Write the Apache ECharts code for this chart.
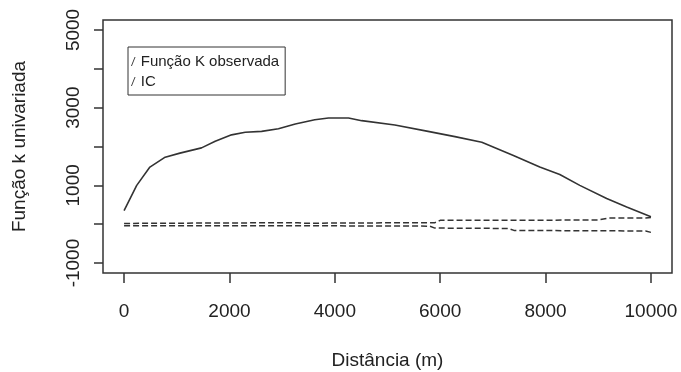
<!DOCTYPE html>
<html>
<head>
<meta charset="utf-8">
<script src="https://cdn.jsdelivr.net/npm/echarts@6/dist/echarts.min.js"></script>
<style>
  html, body { margin: 0; padding: 0; background: #fff; }
  #main { width: 681px; height: 372px; }
</style>
</head>
<body>
<div id="main"></div>
<script>
// função K observada
var dist = [0, 240, 490, 780, 1060, 1470, 1730, 2040, 2300, 2610, 2930, 3250, 3620, 3880, 4260, 4510, 5140, 5770, 6280, 6790, 7390, 7890, 8270, 8650, 9160, 9540, 10000];
var kObs = [350, 1000, 1470, 1725, 1830, 1965, 2135, 2300, 2365, 2390, 2455, 2580, 2690, 2735, 2735, 2665, 2555, 2390, 2255, 2110, 1770, 1470, 1280, 1000, 660, 445, 190];

// intervalo de confiança
var icDist = [0, 3300, 3400, 5800, 5900, 6000, 7300, 7400, 9000, 9200, 9900, 10000];
var icUpper = [20, 40, 25, 40, 40, 100, 100, 100, 110, 160, 160, 170];
var icLower = [-40, -40, -40, -50, -100, -100, -110, -160, -170, -170, -175, -210];

var xTicks = [0, 2000, 4000, 6000, 8000, 10000];
var yTicks = [-1000, 0, 1000, 2000, 3000, 4000, 5000];
var yLabels = [-1000, 1000, 3000, 5000];

function pairs(xs, ys) {
  return xs.map(function (x, i) { return [x, ys[i]]; });
}

var fontFam = 'Liberation Sans, Arial, sans-serif';
var ink = '#333';

var option = {
  backgroundColor: '#fff',
  animation: false,
  grid: {
    left: 103, right: 9, top: 20, bottom: 99,
    outerBoundsMode: 'none',
    show: true, borderColor: ink, borderWidth: 1.5
  },
  legend: {
    orient: 'vertical',
    left: 128, top: 47,
    padding: [7, 6, 6, 3],
    itemGap: 5,
    itemWidth: 5, itemHeight: 9,
    borderColor: ink, borderWidth: 1,
    backgroundColor: '#fff',
    textStyle: { fontFamily: fontFam, fontSize: 15, color: '#222' },
    data: [
      { name: 'Função K observada', icon: 'path://M0,10 L1,10 L5,0 L4,0 Z' },
      { name: 'IC', icon: 'path://M0,10 L1,10 L5,0 L4,0 Z' }
    ]
  },
  xAxis: {
    type: 'value',
    min: -400, max: 10400,
    name: 'Distância (m)',
    nameLocation: 'middle',
    nameGap: 78,
    nameTextStyle: { fontFamily: fontFam, fontSize: 19, color: '#222' },
    axisLine: { show: false, onZero: false },
    splitLine: { show: false },
    axisTick: { show: true, customValues: xTicks, length: 10, lineStyle: { color: ink, width: 1.5 } },
    axisLabel: { customValues: xTicks, margin: 29, fontFamily: fontFam, fontSize: 19, color: '#222',
      formatter: function (v) { return String(v); } }
  },
  yAxis: {
    type: 'value',
    min: -1256, max: 5256,
    name: 'Função k univariada',
    nameLocation: 'middle',
    nameGap: 74,
    nameTextStyle: { fontFamily: fontFam, fontSize: 19, color: '#222' },
    axisLine: { show: false, onZero: false },
    splitLine: { show: false },
    axisTick: { show: true, customValues: yTicks, length: 9, lineStyle: { color: ink, width: 1.5 } },
    axisLabel: { customValues: yLabels, rotate: 90, margin: 20, fontFamily: fontFam, fontSize: 19, color: '#222',
      formatter: function (v) { return String(v); } }
  },
  series: [
    {
      name: 'Função K observada',
      type: 'line',
      data: pairs(dist, kObs),
      symbol: 'none',
      color: ink,
      lineStyle: { color: ink, width: 1.6 }
    },
    {
      name: 'IC',
      type: 'line',
      data: pairs(icDist, icUpper),
      symbol: 'none',
      color: ink,
      lineStyle: { color: ink, width: 1.5, type: [6, 3] }
    },
    {
      name: 'IC',
      type: 'line',
      data: pairs(icDist, icLower),
      symbol: 'none',
      color: ink,
      lineStyle: { color: ink, width: 1.5, type: [6, 3] }
    }
  ]
};

var myChart = echarts.init(document.getElementById('main'));
myChart.setOption(option);
</script>
</body>
</html>
